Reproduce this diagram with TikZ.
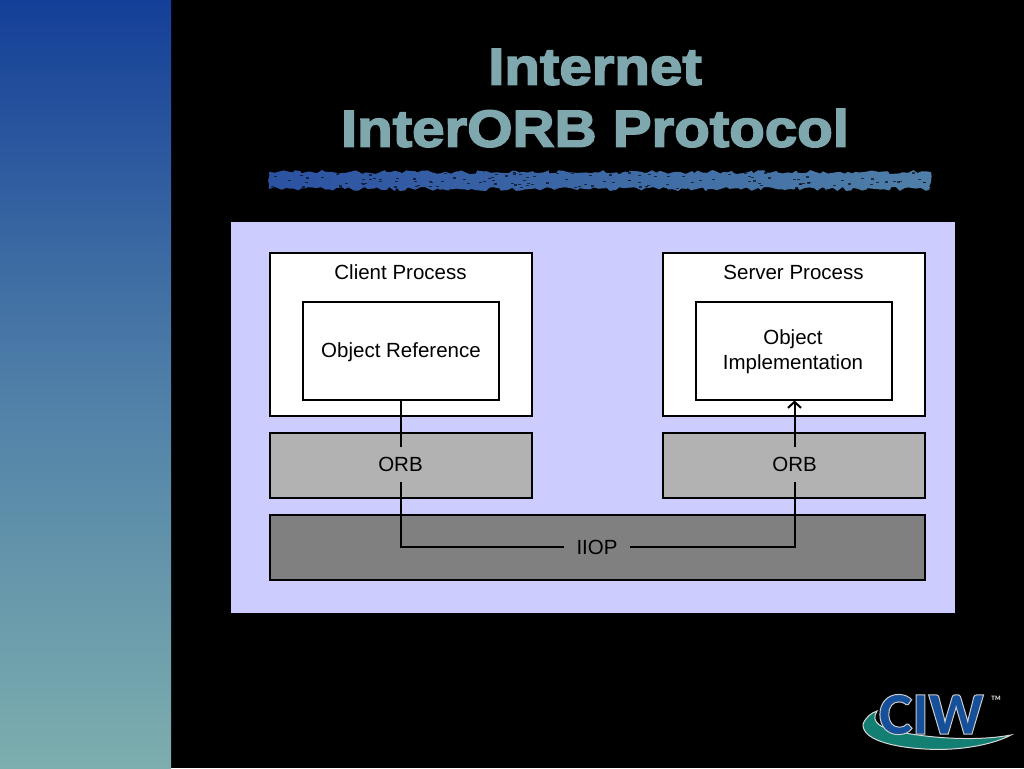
\documentclass[tikz,border=0pt]{standalone}
\usepackage{fontspec}
\setmainfont{Liberation Sans}
\newfontfamily\titlefont[FakeBold=3.2,FakeStretch=1.12]{Liberation Sans Bold}
\newfontfamily\logofont[FakeStretch=0.96]{Lato Black}
\usetikzlibrary{arrows.meta,decorations.pathmorphing}
\definecolor{panelblue}{HTML}{CCCCFF}
\definecolor{titleteal}{HTML}{7FA8AE}
\definecolor{bandtop}{HTML}{143F98}
\definecolor{bandmid}{HTML}{4F7FA8}
\definecolor{bandbot}{HTML}{7CAEAE}
\definecolor{logoblue}{HTML}{17509A}
\definecolor{logoteal}{HTML}{127F72}
\tikzset{
  box/.style={draw=black,line width=2pt,rectangle,minimum height=#1},
  label/.style={font=\fontsize{20.5}{25}\selectfont,align=center,text=black},
  conn/.style={line width=2pt,draw=black},
}
\begin{document}
\begin{tikzpicture}[x=1pt,y=-1pt]
  \fill[black] (0,0) rectangle (1024,768);
  % side band
  \shade[top color=bandtop,bottom color=bandmid] (0,0) rectangle (171,384);
  \shade[top color=bandmid,bottom color=bandbot] (0,384) rectangle (171,768);
  % title
  \node[text=titleteal,align=center,font=\titlefont\fontsize{52}{62}\selectfont] (title) at (595,98) {Internet\\InterORB Protocol};
  % divider
  \pgfmathsetseed{7}
  \shade[left color=bandtop!90!white,right color=bandmid,decorate,decoration={random steps,segment length=4pt,amplitude=2pt}] (269,172) rectangle (931,189);
  \foreach \i in {1,...,140}{
    \pgfmathsetmacro{\dx}{270+660*rnd}
    \pgfmathsetmacro{\dy}{172+17*rnd}
    \fill[black,opacity=0.6] (\dx,\dy) rectangle +(3,1.2);
  }
  % panel
  \fill[panelblue] (231,222) rectangle (955,613);
  \node[box=163pt,minimum width=262pt,fill=white] (client) at (400.5,334) {};
  \node[box=163pt,minimum width=262pt,fill=white] (server) at (793.5,334) {};
  \node[box=98pt,minimum width=196pt,fill=white] (objref) at (400.5,350.5) {};
  \node[box=98pt,minimum width=196pt,fill=white] (objimpl) at (793.5,350.5) {};
  \node[box=64.6pt,minimum width=262pt,fill=black!30] (orbleft) at (400.5,465.5) {};
  \node[box=64.6pt,minimum width=262pt,fill=black!30] (orbright) at (793.5,465.5) {};
  \node[box=64.6pt,minimum width=655pt,fill=black!50] (iiop) at (597,547.5) {};
  \node[label] (clientlabel) at (400.5,272.5) {Client Process};
  \node[label] (serverlabel) at (793.5,272.5) {Server Process};
  \node[label] (objreflabel) at (401,352) {Object Reference};
  \node[label] (objimpllabel) at (793,352) {Object\\Implementation};
  \node[label,minimum height=35pt,inner sep=0pt] (orblefttext) at (400.5,464.5) {ORB};
  \node[label,minimum height=35pt,inner sep=0pt] (orbrighttext) at (794.5,464.5) {ORB};
  \node[label,minimum width=66pt,inner sep=0pt] (iioptext) at (597,547) {IIOP};
  % connectors
  \draw[conn] (objref.south) -- (orblefttext);
  \draw[conn] (orblefttext) |- (iioptext);
  \draw[conn] (iioptext) -| (orbrighttext);
  \draw[conn,-{Straight Barb[length=6pt,width=13pt,line width=2pt]}] (orbrighttext) -- (orbrighttext |- objimpl.south);
  % logo
  \fill[logoteal,draw=black!15,line width=1pt] (863,724) .. controls (866,717) and (871,713) .. (877,711) .. controls (870,722) and (880,729) .. (905,733) .. controls (945,740) and (985,740) .. (1011,735) .. controls (990,746) and (955,751) .. (925,749) .. controls (890,747) and (862,739) .. (863,724) -- cycle;
  \node[text=logoblue,font=\logofont\fontsize{54}{54}\selectfont,inner sep=0pt] (logo) at (931,714.5) {\special{pdf:code 2 Tr 1 w 0.8 G}CIW\special{pdf:code 0 Tr}};
  \node[text=black!15,font=\logofont\fontsize{6}{6}\selectfont,inner sep=0pt] (tm) at (996,698) {TM};
\end{tikzpicture}
\end{document}
